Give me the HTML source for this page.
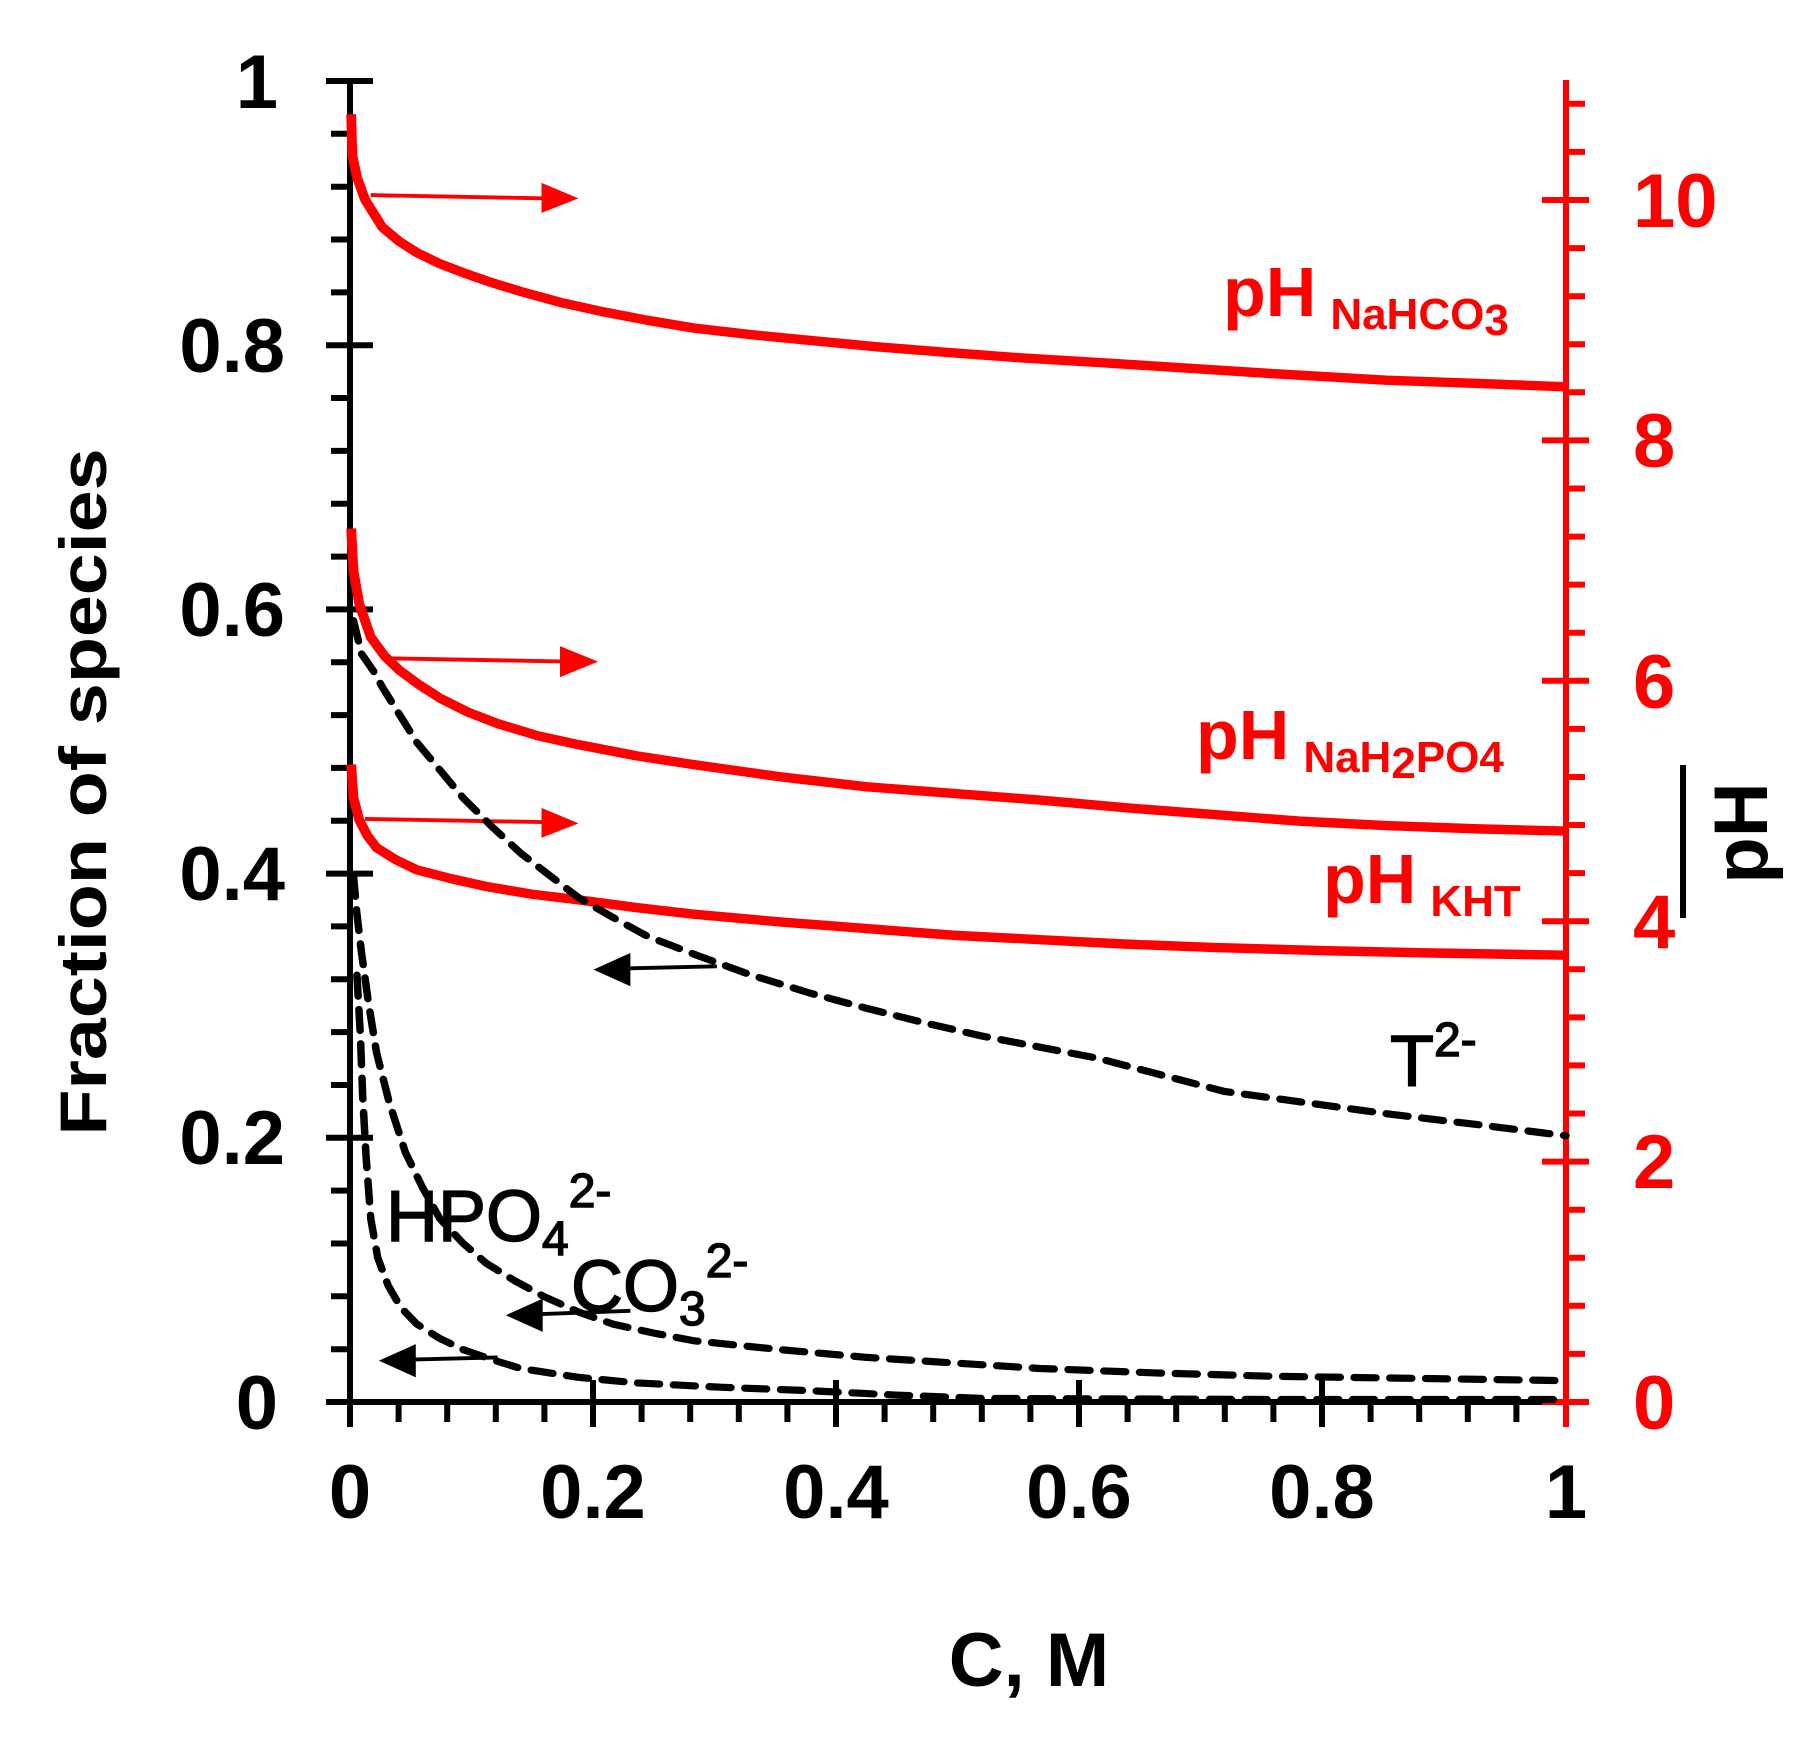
<!DOCTYPE html>
<html><head><meta charset="utf-8"><style>
html,body{margin:0;padding:0;background:#fff;}
svg{display:block;}
text{font-family:"Liberation Sans",Arial,sans-serif;font-weight:bold;}
</style></head><body>
<svg width="1810" height="1738" viewBox="0 0 1810 1738" xmlns="http://www.w3.org/2000/svg">
<g stroke="#000" stroke-width="6">
<line x1="350" y1="81" x2="350" y2="1404"/>
<line x1="348" y1="1402" x2="1566" y2="1402"/>
<line x1="326" y1="81" x2="373" y2="81"/>
<line x1="326" y1="345.2" x2="373" y2="345.2"/>
<line x1="326" y1="609.4" x2="373" y2="609.4"/>
<line x1="326" y1="873.6" x2="373" y2="873.6"/>
<line x1="326" y1="1137.8" x2="373" y2="1137.8"/>
<line x1="326" y1="1402" x2="373" y2="1402"/>
<path d="M331 133.8H350M331 186.7H350M331 239.5H350M331 292.4H350M331 398H350M331 450.9H350M331 503.7H350M331 556.6H350M331 662.2H350M331 715.1H350M331 767.9H350M331 820.8H350M331 926.4H350M331 979.3H350M331 1032.1H350M331 1085H350M331 1190.6H350M331 1243.5H350M331 1296.3H350M331 1349.2H350"/>
<path d="M350 1380V1427M593 1380V1427M836 1380V1427M1079 1380V1427M1322 1380V1427"/>
<path d="M398.6 1402V1422M447.2 1402V1422M495.8 1402V1422M544.4 1402V1422M641.6 1402V1422M690.2 1402V1422M738.8 1402V1422M787.4 1402V1422M884.6 1402V1422M933.2 1402V1422M981.8 1402V1422M1030.4 1402V1422M1127.6 1402V1422M1176.2 1402V1422M1224.8 1402V1422M1273.4 1402V1422M1370.6 1402V1422M1419.2 1402V1422M1467.8 1402V1422M1516.4 1402V1422"/>
</g>
<g stroke="#f00" stroke-width="6">
<line x1="1566" y1="80" x2="1566" y2="1404"/>
<path d="M1542 1402H1589M1542 1161.6H1589M1542 921.2H1589M1542 680.8H1589M1542 440.4H1589M1542 200H1589M1566 1402V1427"/>
<path d="M1566 1353.9H1585M1566 1305.8H1585M1566 1257.8H1585M1566 1209.7H1585M1566 1113.5H1585M1566 1065.4H1585M1566 1017.4H1585M1566 969.3H1585M1566 873.1H1585M1566 825H1585M1566 777H1585M1566 728.9H1585M1566 632.7H1585M1566 584.6H1585M1566 536.6H1585M1566 488.5H1585M1566 392.3H1585M1566 344.2H1585M1566 296.2H1585M1566 248.1H1585M1566 151.9H1585M1566 103.8H1585"/>
</g>
<g transform="matrix(1.1537,0,0,1.108,1.6,0.1)" fill="none" stroke-linejoin="round">
<g stroke="#f00" stroke-width="8.5">
<polyline points="303,103 304,140 308,160 315,180 330,205 345,218 360,228 380,238 400,246 425,255 450,263 485,273 520,281 560,289 600,296 650,302 700,307 760,313 820,318 885,323 950,327 1025,332 1100,337 1200,343 1280,346 1356,349"/>
<polyline points="303,477 305,515 310,545 320,575 332,592 345,605 362,618 380,630 405,643 430,653 465,664 500,672 550,682 600,690 675,701 750,710 825,716 900,722 975,729 1050,735 1125,741 1200,745 1280,748 1356,750"/>
<polyline points="303,690 305,720 310,740 317,754 325,765 342,776 360,785 390,793 420,800 460,807 500,812 550,819 600,825 675,832 750,838 825,844 900,848 975,852 1050,855 1150,858 1240,860 1356,862"/>
</g>
<g stroke="#f00" stroke-width="3.5">
<line x1="320" y1="176" x2="475" y2="179"/>
<line x1="335" y1="594" x2="490" y2="597"/>
<line x1="315" y1="739" x2="475" y2="742"/>
</g>
<g fill="#f00">
<polygon points="468,165 500,179 468,192"/>
<polygon points="484,583 517,597 484,611"/>
<polygon points="468,729 500,743 468,756"/>
</g>
<g stroke="#000" stroke-width="6.5" stroke-dasharray="19,12" stroke-linecap="round">
<polyline points="305,560 312,590 322,605 330,620 345,645 360,670 380,695 400,720 425,746 450,770 475,790 500,810 530,828 560,845 605,863 650,880 700,896 750,910 800,923 850,935 900,945 950,955 1005,970 1060,985 1130,995 1200,1005 1280,1015 1356,1025"/>
<polyline points="305,790 308,825 312,860 318,905 325,950 336,995 350,1040 365,1072 380,1100 400,1122 420,1140 445,1156 470,1170 500,1184 530,1195 565,1203 600,1210 675,1218 750,1225 825,1230 900,1235 1000,1239 1100,1242 1230,1244 1356,1246"/>
<polyline points="308,880 311,935 313,990 316,1045 320,1100 326,1135 335,1160 346,1180 360,1195 380,1208 400,1218 425,1227 450,1235 500,1243 550,1248 625,1252 700,1255 775,1259 850,1262 1100,1263 1356,1263"/>
</g>
<g stroke="#000" stroke-width="3.5">
<line x1="540" y1="874" x2="620" y2="872"/>
<line x1="465" y1="1186" x2="545" y2="1183"/>
<line x1="355" y1="1227" x2="430" y2="1225"/>
</g>
<g fill="#000">
<polygon points="513,875 545,860 545,890"/>
<polygon points="437,1187 469,1172 469,1202"/>
<polygon points="327,1228 359,1213 359,1243"/>
</g>
</g>
<g font-size="76" text-anchor="end" fill="#000">
<text x="278" y="108">1</text>
<text x="285" y="372">0.8</text>
<text x="285" y="636">0.6</text>
<text x="285" y="900">0.4</text>
<text x="285" y="1164">0.2</text>
<text x="278" y="1429">0</text>
</g>
<g font-size="76" text-anchor="middle" fill="#000">
<text x="350" y="1518">0</text>
<text x="593" y="1518">0.2</text>
<text x="836" y="1518">0.4</text>
<text x="1079" y="1518">0.6</text>
<text x="1322" y="1518">0.8</text>
<text x="1566" y="1518">1</text>
<text x="1029" y="1686">C, M</text>
</g>
<g font-size="76" fill="#f00">
<text x="1633" y="227">10</text>
<text x="1633" y="467">8</text>
<text x="1633" y="708">6</text>
<text x="1633" y="948">4</text>
<text x="1633" y="1188">2</text>
<text x="1633" y="1429">0</text>
</g>
<text transform="translate(106,792) rotate(-90)" font-size="66" text-anchor="middle" fill="#000" textLength="687" lengthAdjust="spacingAndGlyphs">Fraction of species</text>
<text transform="translate(1767,833) rotate(-90)" font-size="76" text-anchor="middle" fill="#000">pH</text>
<line x1="1683" y1="765" x2="1683" y2="918" stroke="#000" stroke-width="6"/>
<g fill="#f00">
<text x="1223" y="316" font-size="70">pH<tspan dx="14" dy="13" font-size="44">NaHCO</tspan><tspan dy="6" font-size="44">3</tspan></text>
<text x="1196" y="759" font-size="70">pH<tspan dx="14" dy="13" font-size="44">NaH</tspan><tspan dy="6" font-size="44">2</tspan><tspan dy="-6" font-size="44">PO4</tspan></text>
<text x="1323" y="903" font-size="70">pH<tspan dx="14" dy="13" font-size="44">KHT</tspan></text>
</g>
<g fill="#000" stroke="#000" stroke-width="1.5">
<text x="1390" y="1086" font-size="72" style="font-weight:normal">T<tspan dy="-30" font-size="48">2-</tspan></text>
<text x="386" y="1241" font-size="72" style="font-weight:normal">HPO<tspan dy="14" font-size="48">4</tspan><tspan dy="-48" font-size="48">2-</tspan></text>
<text x="571" y="1311" font-size="72" style="font-weight:normal">CO<tspan dy="14" font-size="48">3</tspan><tspan dy="-48" font-size="48">2-</tspan></text>
</g>
</svg>
</body></html>
